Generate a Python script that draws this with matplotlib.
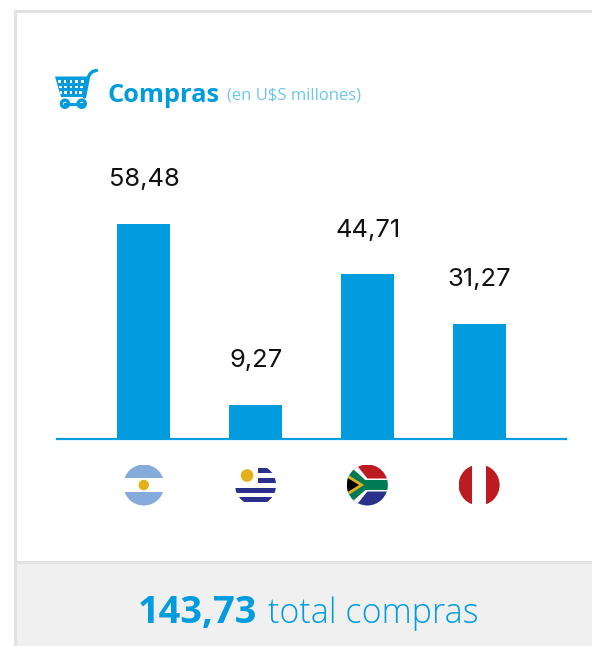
import matplotlib
matplotlib.use("Agg")
import matplotlib.pyplot as plt
from matplotlib.patches import Circle, Rectangle, Polygon, PathPatch
from matplotlib.path import Path

countries = ["Argentina", "Uruguay", "Sudáfrica", "Perú"]
values = [58.48, 9.27, 44.71, 31.27]
value_labels = ["58,48", "9,27", "44,71", "31,27"]
title = "Compras"
subtitle = "(en U$S millones)"
total_value = "143,73"
total_text = "total compras"

BLUE = "#009CDE"
W, H = 592, 646
FONT = "Open Sans"
plt.rcParams["font.family"] = [FONT, "DejaVu Sans"]

fig = plt.figure(figsize=(W / 100, H / 100), dpi=100, facecolor="white")

# pixel-space layer for the card, icon, flags and texts
bg = fig.add_axes([0, 0, 1, 1], zorder=0)
bg.set_xlim(0, W)
bg.set_ylim(H, 0)
bg.axis("off")

bg.add_patch(Rectangle((15, 563), W - 15, H - 563, fc="#F0F0F0", ec="none"))
bg.add_patch(Rectangle((15, 561), W - 15, 2.5, fc="#E2E2E2", ec="none"))
bg.add_patch(Rectangle((14, 10), 2.5, H - 10, fc="#E2E2E2", ec="none"))
bg.add_patch(Rectangle((14, 10), W - 14, 2.5, fc="#E2E2E2", ec="none"))

# bar chart
x0, x1, y_base, y_top = 57.3, 566.3, 438.6, 223.8
ax = fig.add_axes([x0 / W, 1 - y_base / H, (x1 - x0) / W, (y_base - y_top) / H], zorder=1)
ax.patch.set_alpha(0)
positions = list(range(len(values)))
ax.bar(positions, values, width=0.474, color=BLUE)
ax.set_xlim(-0.774, 3.78)
ax.set_ylim(0, max(values))
for s in ("top", "left", "right"):
    ax.spines[s].set_visible(False)
ax.spines["bottom"].set_color(BLUE)
ax.spines["bottom"].set_linewidth(1.6)
ax.set_yticks([])
ax.set_xticks(positions)
ax.set_xticklabels([])
ax.tick_params(axis="x", length=0)
for p, v, t in zip(positions, values, value_labels):
    ax.annotate(t, (p, v), xytext=(0.3, 27), textcoords="offset points",
                ha="center", va="baseline", fontsize=18.4, color="#111111",
                family=["Inter", "DejaVu Sans"], annotation_clip=False)

# header
bg.text(107.5, 102, title, fontsize=18.3, fontweight="bold", color=BLUE, va="baseline")
bg.text(227, 100, subtitle, fontsize=12, color="#6CC6EC", va="baseline")

# cart icon
bg.add_patch(Polygon([(55, 76.5), (88.5, 76.5), (84.5, 97), (61, 97)], closed=True, fc=BLUE, ec="none"))
for gy, inset in ((81.3, 0), (87, 0.8), (92.7, 1.6)):
    for gx in (59.5, 65, 70.9, 76.7, 82.3):
        bg.add_patch(Rectangle((gx - 1.4 + inset * (71 - gx) / 12, gy - 1.3), 2.8, 2.6,
                               fc="white", ec="none"))
cart = Path([(96.5, 70.5), (90.5, 71), (88.5, 77), (84.5, 97)],
            [Path.MOVETO, Path.CURVE3, Path.CURVE3, Path.LINETO])
bg.add_patch(PathPatch(cart, fc="none", ec=BLUE, lw=2.4, capstyle="round", joinstyle="round"))
bg.plot([65, 81.7], [103.7, 103.7], color=BLUE, lw=2.2)
for cx in (65, 81.7):
    bg.add_patch(Circle((cx, 103.7), 3.6, fc="white", ec=BLUE, lw=2.4))

# footer
bg.text(137.5, 623, total_value, fontsize=27.4, fontweight="bold", color=BLUE, va="baseline")
bg.text(268, 623, total_text, fontsize=24.6, color=BLUE, va="baseline", fontweight="light")


def clipped(patch, clip):
    bg.add_patch(patch)
    patch.set_clip_path(clip)


def flag_argentina(c, r):
    cx, cy = c
    clip = Circle(c, r, transform=bg.transData)
    clipped(Rectangle((cx - r, cy - r), 2 * r, r - 7, fc="#84ABDB", ec="none"), clip)
    clipped(Rectangle((cx - r, cy + 7), 2 * r, r - 7, fc="#84ABDB", ec="none"), clip)
    bg.add_patch(Circle(c, 5.2, fc="#E4B01B", ec="none"))


def flag_uruguay(c, r):
    cx, cy = c
    clip = Circle(c, r, transform=bg.transData)
    navy = "#2B318B"
    for top, h, left in ((-17, 4.6, 2.5), (-7, 5.2, 2.5), (2.5, 5, -r), (12, 5.3, -r)):
        clipped(Rectangle((cx + left, cy + top), r - left, h, fc=navy, ec="none"), clip)
    bg.add_patch(Circle((cx - 8.5, cy - 9.5), 6.3, fc="#E4B01B", ec="none"))


def flag_south_africa(c, r):
    cx, cy = c
    clip = Circle(c, r, transform=bg.transData)
    clipped(Rectangle((cx - r, cy - r), 2 * r, r, fc="#BC1B21", ec="none"), clip)
    clipped(Rectangle((cx - r, cy), 2 * r, r, fc="#2B318B", ec="none"), clip)
    P = lambda pts: [(cx + a, cy + b) for a, b in pts]
    clipped(Polygon(P([(-r, -30), (-14, -24), (0, -6.5), (r, -6.5), (r, 6.5), (0, 6.5), (-14, 24), (-r, 30)]),
                    fc="white", ec="none"), clip)
    clipped(Polygon(P([(-r, -21.5), (-2, -5), (r, -5), (r, 5), (-2, 5), (-r, 21.5)]),
                    fc="#007A53", ec="none"), clip)
    clipped(Polygon(P([(-r, -11), (-3.3, 0), (-r, 11)]), fc="#E4B01B", ec="none"), clip)
    clipped(Polygon(P([(-r, -7.5), (-8.3, 0), (-r, 7.5)]), fc="black", ec="none"), clip)


def flag_peru(c, r):
    cx, cy = c
    clip = Circle(c, r, transform=bg.transData)
    clipped(Rectangle((cx - r, cy - r), r - 7, 2 * r, fc="#BC1B21", ec="none"), clip)
    clipped(Rectangle((cx + 7, cy - r), r - 7, 2 * r, fc="#BC1B21", ec="none"), clip)


flags = [flag_argentina, flag_uruguay, flag_south_africa, flag_peru]
for p, draw in zip(positions, flags):
    px = x0 + (p + 0.774) / (3.78 + 0.774) * (x1 - x0)
    draw((px, 485), 20.5)

fig.savefig("out.png", dpi=100)
